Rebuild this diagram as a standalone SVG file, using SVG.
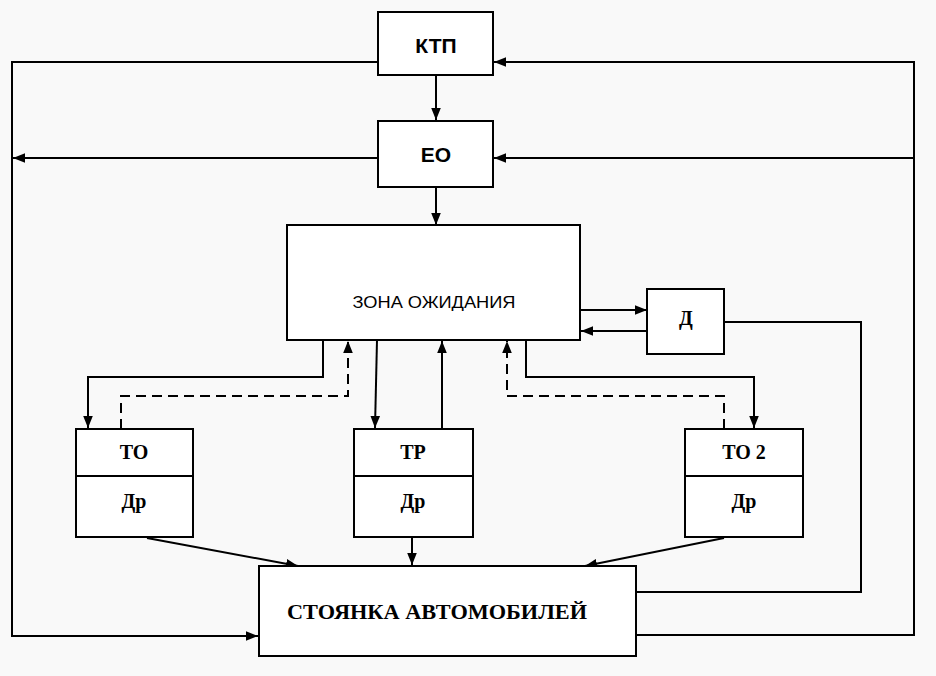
<svg xmlns="http://www.w3.org/2000/svg" width="936" height="676" viewBox="0 0 936 676">
<style>
.box{fill:#fff;stroke:#000;stroke-width:2}
.ln{fill:none;stroke:#000;stroke-width:2}
.dash{fill:none;stroke:#000;stroke-width:2;stroke-dasharray:10,6}
.sans{font-family:"Liberation Sans",Arial,sans-serif;fill:#000}
.serif{font-family:"Liberation Serif","Times New Roman",serif;fill:#000;font-weight:bold}
</style>
<defs>
<marker id="ahb" viewBox="0 0 10 10" refX="10" refY="5" markerWidth="12" markerHeight="12" orient="auto" markerUnits="userSpaceOnUse">
<path d="M0,1 L10,5 L0,9 Z" fill="#000"/>
</marker>
</defs>
<rect width="936" height="676" fill="#f9f9f9"/>
<g id="connectors">
<line class="ln" x1="436" y1="75" x2="436" y2="120" marker-end="url(#ahb)"/>
<line class="ln" x1="436" y1="188" x2="436" y2="225" marker-end="url(#ahb)"/>
<polyline class="ln" points="378,62 12,62 12,636 258,636" marker-end="url(#ahb)"/>
<line class="ln" x1="378" y1="158" x2="13" y2="158" marker-end="url(#ahb)"/>
<polyline class="ln" points="637,635 914,635 914,62 494,62" marker-end="url(#ahb)"/>
<line class="ln" x1="914" y1="158" x2="494" y2="158" marker-end="url(#ahb)"/>
<line class="ln" x1="581" y1="310" x2="647" y2="310" marker-end="url(#ahb)"/>
<line class="ln" x1="647" y1="331" x2="581" y2="331" marker-end="url(#ahb)"/>
<polyline class="ln" points="725,322 861,322 861,592 637,592"/>
<polyline class="ln" points="323,340 323,377 88,377 88,428" marker-end="url(#ahb)"/>
<polyline class="dash" points="121,429 121,396 348,396 348,341" marker-end="url(#ahb)"/>
<line class="ln" x1="377" y1="340" x2="375" y2="428" marker-end="url(#ahb)"/>
<line class="ln" x1="442" y1="429" x2="442" y2="341" marker-end="url(#ahb)"/>
<polyline class="dash" points="724,429 724,396 507,396 507,341" marker-end="url(#ahb)"/>
<polyline class="ln" points="526,340 526,377 754,377 754,428" marker-end="url(#ahb)"/>
<line class="ln" x1="147" y1="538" x2="298" y2="566" marker-end="url(#ahb)"/>
<line class="ln" x1="412" y1="538" x2="412" y2="565" marker-end="url(#ahb)"/>
<line class="ln" x1="724" y1="538" x2="585" y2="566" marker-end="url(#ahb)"/>
</g>
<g id="ktp">
<rect class="box" x="378" y="12" width="115" height="63"/>
<text class="sans" x="436" y="53" font-size="21" font-weight="bold" text-anchor="middle">КТП</text>
</g>
<g id="eo">
<rect class="box" x="378" y="121" width="115" height="66"/>
<text class="sans" x="436" y="162" font-size="21" font-weight="bold" text-anchor="middle">ЕО</text>
</g>
<g id="zona">
<rect class="box" x="287" y="225" width="293" height="115"/>
<text class="sans" x="434" y="308" font-size="17" text-anchor="middle" textLength="163" lengthAdjust="spacingAndGlyphs">ЗОНА ОЖИДАНИЯ</text>
</g>
<g id="d">
<rect class="box" x="647" y="289" width="77" height="65"/>
<text class="serif" x="686" y="325" font-size="20" font-weight="normal" text-anchor="middle">Д</text>
</g>
<g id="to">
<rect class="box" x="76" y="429" width="117" height="108"/>
<line class="ln" x1="76" y1="476" x2="193" y2="476"/>
<text class="serif" x="134" y="459" font-size="20" text-anchor="middle">ТО</text>
<text class="serif" x="134" y="508" font-size="20" text-anchor="middle">Др</text>
</g>
<g id="tr">
<rect class="box" x="354" y="429" width="119" height="108"/>
<line class="ln" x1="354" y1="476" x2="473" y2="476"/>
<text class="serif" x="413" y="459" font-size="20" text-anchor="middle">ТР</text>
<text class="serif" x="413" y="508" font-size="20" text-anchor="middle">Др</text>
</g>
<g id="to2">
<rect class="box" x="685" y="429" width="118" height="108"/>
<line class="ln" x1="685" y1="476" x2="803" y2="476"/>
<text class="serif" x="744" y="459" font-size="20" text-anchor="middle">ТО 2</text>
<text class="serif" x="744" y="508" font-size="20" text-anchor="middle">Др</text>
</g>
<g id="stoyanka">
<rect class="box" x="259" y="566" width="377" height="90"/>
<text class="serif" x="437" y="619" font-size="21" text-anchor="middle" textLength="300" lengthAdjust="spacingAndGlyphs">СТОЯНКА АВТОМОБИЛЕЙ</text>
</g>
</svg>
